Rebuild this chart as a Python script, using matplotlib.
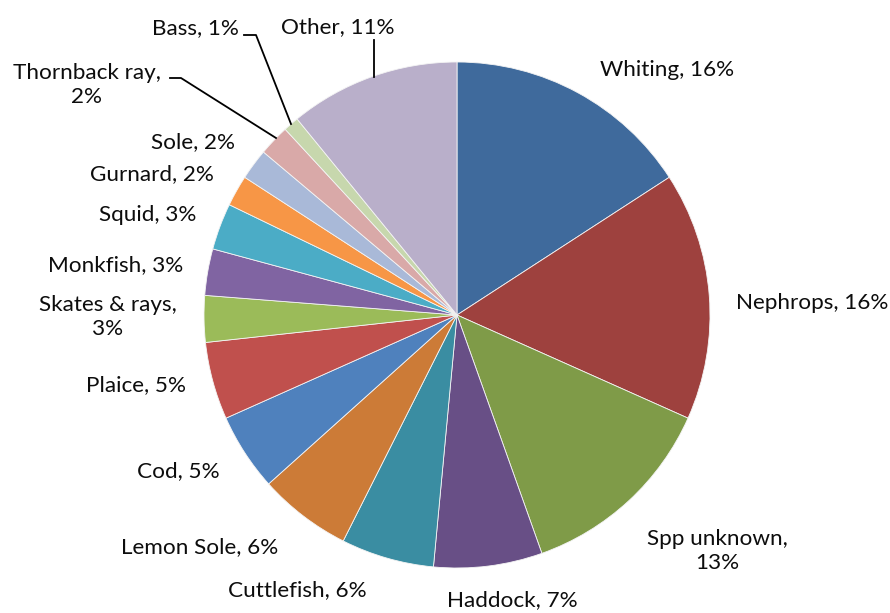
import matplotlib.pyplot as plt

# Catch composition by species (percent of total)
species = ["Whiting", "Nephrops", "Spp unknown", "Haddock", "Cuttlefish",
           "Lemon Sole", "Cod", "Plaice", "Skates & rays", "Monkfish",
           "Squid", "Gurnard", "Sole", "Thornback ray", "Bass", "Other"]
percent = [16, 16, 13, 7, 6, 6, 5, 5, 3, 3, 3, 2, 2, 2, 1, 11]

colours = ["#3F6A9C", "#9E413E", "#7F9B48", "#684F86", "#3A8DA2",
           "#CC7B37", "#4F81BD", "#C0504D", "#9BBB59", "#8064A2",
           "#4BACC6", "#F79646", "#A9B9D8", "#D9A9A8", "#C7D7AD", "#B9AFCA"]

# names that wrap onto a second line in their label
wrapped = {"Spp unknown", "Skates & rays", "Thornback ray"}

# label centres in pixels of the 890x613 canvas (x, y from top)
label_px = [(667, 70), (812, 303), (717, 551), (512, 600), (297, 590),
            (200, 547), (178, 471), (136, 385), (108, 317), (116, 265),
            (148, 215), (152, 174), (193, 142), (87, 85), (195, 28), (338, 27)]

# leader lines for the small slices at the top (pixel paths)
leaders = {
    "Other": [(374, 40), (374, 77)],
    "Bass": [(244, 35), (256, 35), (291, 124)],
    "Thornback ray": [(170, 78), (181, 78), (276, 138)],
}

W, H = 890, 613
cx, cy, R = 457, 315, 253

fig = plt.figure(figsize=(W / 100, H / 100), dpi=100)
ax = fig.add_axes([(cx - R) / W, (H - cy - R) / H, 2 * R / W, 2 * R / H])

ax.pie(percent, colors=colours, startangle=90, counterclock=False,
       radius=1, wedgeprops=dict(edgecolor="#f4f4f4", linewidth=0.6))
ax.set_xlim(-1, 1)
ax.set_ylim(-1, 1)
ax.set_aspect("auto")
ax.axis("off")


def to_data(px, py):
    return (px - cx) / R, (cy - py) / R


for name, val, (px, py) in zip(species, percent, label_px):
    sep = ",\n" if name in wrapped else ", "
    x, y = to_data(px, py)
    ax.text(x, y, f"{name}{sep}{val}%", ha="center", va="center",
            fontsize=16.2, family="Lato", color="#0d0d0d", linespacing=1.2)

for name, path in leaders.items():
    pts = [to_data(px, py) for px, py in path]
    ax.plot([p[0] for p in pts], [p[1] for p in pts], color="black",
            linewidth=1.3, clip_on=False)

fig.savefig("out.png", dpi=100)
